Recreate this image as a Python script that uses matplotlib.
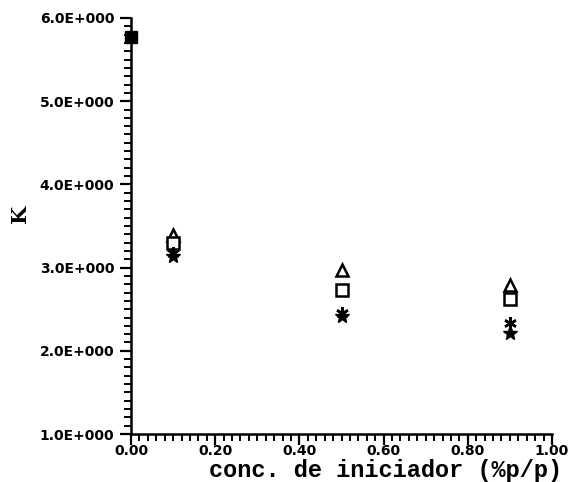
import matplotlib
matplotlib.use("Agg")
import matplotlib.pyplot as plt
from matplotlib.ticker import MultipleLocator, FuncFormatter

# Data
x_ref = [0.0]
k_ref = [5.77]

x_conc = [0.1, 0.5, 0.9]
k_triangle = [3.39, 2.97, 2.79]
k_square = [3.30, 2.73, 2.62]
k_asterisk = [3.18, 2.45, 2.33]
k_star = [3.14, 2.42, 2.21]

x_ticks = [0.0, 0.2, 0.4, 0.6, 0.8, 1.0]
y_ticks = [1.0, 2.0, 3.0, 4.0, 5.0, 6.0]

fig = plt.figure(figsize=(5.75, 4.82), dpi=100)
ax = fig.add_axes([131/575, 1-434/482, (552-131)/575, (434-18)/482])

ax.plot(x_ref, k_ref, ls='none', marker='s', ms=9, mfc='black', mec='black', clip_on=False, zorder=5)
ax.plot(x_conc, k_triangle, ls='none', marker='^', ms=8.5, mfc='white', mec='black', mew=1.8)
ax.plot(x_conc, k_square, ls='none', marker='s', ms=8, mfc='white', mec='black', mew=1.8)
ax.plot(x_conc, k_asterisk, ls='none', marker=(6, 2, 0), ms=9, mec='black', mew=1.8)
ax.plot(x_conc, k_star, ls='none', marker='*', ms=11, mfc='black', mec='black')

ax.set_xlim(0, 1.0)
ax.set_ylim(1.0, 6.0)
ax.set_xticks(x_ticks)
ax.set_yticks(y_ticks)
ax.xaxis.set_minor_locator(MultipleLocator(0.02))
ax.yaxis.set_minor_locator(MultipleLocator(0.1))
ax.xaxis.set_major_formatter(FuncFormatter(lambda v, p: f"{v:.2f}"))
ax.yaxis.set_major_formatter(FuncFormatter(lambda v, p: f"{v:.1f}E+000"))

for s in ['top', 'right']:
    ax.spines[s].set_visible(False)
for s in ['left', 'bottom']:
    ax.spines[s].set_linewidth(1.8)

ax.tick_params(which='major', direction='out', length=8, width=1.6, labelsize=10, pad=2)
ax.tick_params(which='minor', direction='out', length=5, width=1.4)
for lab in ax.get_xticklabels() + ax.get_yticklabels():
    lab.set_fontweight('bold')
    lab.set_family('DejaVu Sans')
ax.tick_params(axis='x', pad=-1)
ax.tick_params(axis='y', pad=4)

fig.text(0.67, 1-470/482, "conc. de iniciador (%p/p)", ha='center', va='center',
         fontsize=17, fontweight='bold', family='Liberation Mono')
fig.text(0.035, 1-214/482, "K", ha='center', va='center', rotation=90,
         fontsize=15, fontweight='bold', family='DejaVu Serif')

fig.savefig("out.png", dpi=100)
